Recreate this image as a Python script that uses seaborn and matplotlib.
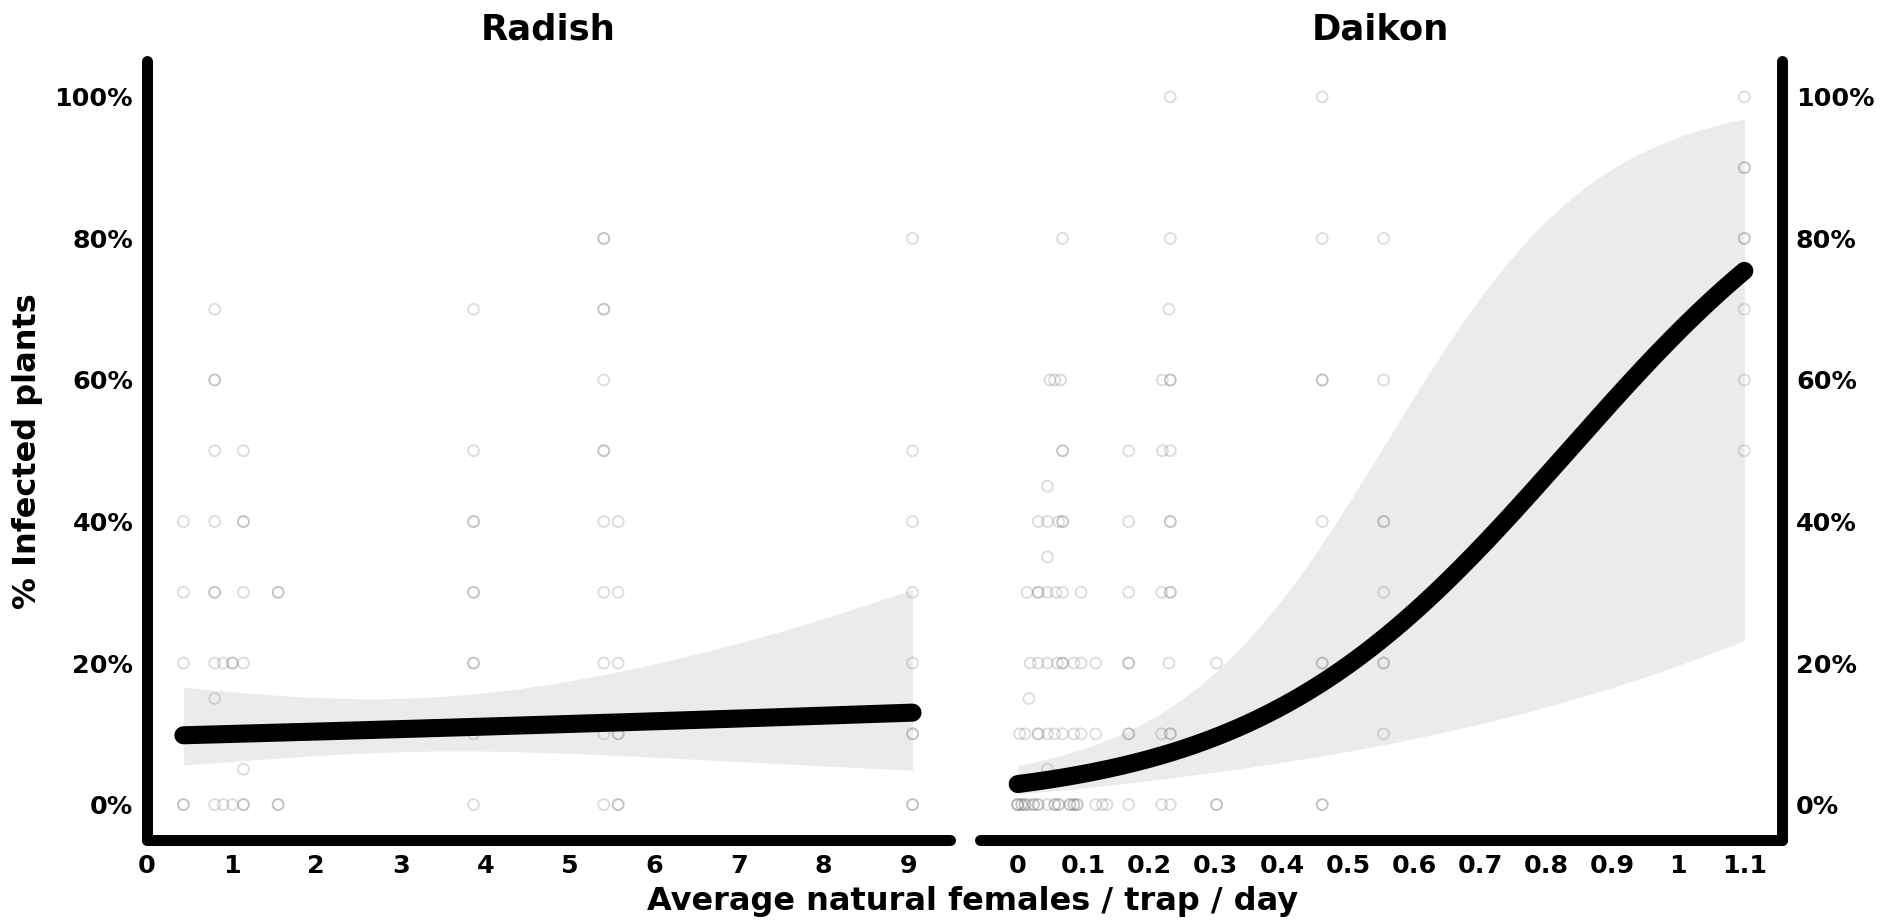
import numpy as np
import pandas as pd
import matplotlib
matplotlib.use("Agg")
import matplotlib.pyplot as plt
import seaborn as sns
from matplotlib.ticker import FuncFormatter, PercentFormatter

# ---- observations: trap catch rate vs share of infected plants ----
radish_x = [0.43, 0.43, 0.43, 0.43, 0.43,
            0.80, 0.80, 0.80, 0.80, 0.80, 0.80, 0.80, 0.80, 0.80, 0.80,
            0.90, 0.90,
            1.01, 1.01, 1.01,
            1.14, 1.14, 1.14, 1.14, 1.14, 1.14, 1.14, 1.14,
            1.55, 1.55, 1.55, 1.55,
            3.86, 3.86, 3.86, 3.86, 3.86, 3.86, 3.86, 3.86, 3.86, 3.86,
            5.40, 5.40, 5.40, 5.40, 5.40, 5.40, 5.40, 5.40, 5.40, 5.40, 5.40, 5.40,
            5.57, 5.57, 5.57, 5.57, 5.57, 5.57, 5.57,
            9.05, 9.05, 9.05, 9.05, 9.05, 9.05, 9.05, 9.05, 9.05]
radish_y = [0, 0, 20, 30, 40,
            0, 15, 20, 30, 30, 40, 50, 60, 60, 70,
            0, 20,
            0, 20, 20,
            0, 0, 5, 20, 30, 40, 40, 50,
            0, 0, 30, 30,
            0, 10, 20, 20, 30, 30, 40, 40, 50, 70,
            0, 10, 20, 30, 40, 50, 50, 60, 70, 70, 80, 80,
            0, 0, 10, 10, 20, 30, 40,
            0, 0, 10, 10, 20, 30, 40, 50, 80]

daikon_x = [
    # 0 %
    0.0, 0.0, 0.0, 0.006, 0.006, 0.011, 0.011, 0.017, 0.024, 0.024, 0.031, 0.031,
    0.045, 0.056, 0.056, 0.062, 0.062, 0.079, 0.079, 0.085, 0.085, 0.090, 0.090,
    0.118, 0.128, 0.135, 0.168, 0.218, 0.231, 0.301, 0.301, 0.461, 0.461,
    # 5 %
    0.045,
    # 10 %
    0.003, 0.011, 0.031, 0.031, 0.045, 0.056, 0.068, 0.085, 0.096, 0.118,
    0.168, 0.168, 0.218, 0.231, 0.231, 0.554,
    # 15 %
    0.017,
    # 20 %
    0.019, 0.031, 0.045, 0.060, 0.068, 0.068, 0.085, 0.096, 0.118, 0.168, 0.168,
    0.229, 0.301, 0.461, 0.461, 0.554, 0.554,
    # 30 %
    0.014, 0.031, 0.031, 0.045, 0.058, 0.068, 0.096, 0.168, 0.218, 0.231, 0.231, 0.554,
    # 35 %
    0.045,
    # 40 %
    0.031, 0.045, 0.062, 0.068, 0.068, 0.168, 0.231, 0.231, 0.461, 0.554, 0.554,
    # 45 %
    0.045,
    # 50 %
    0.068, 0.068, 0.168, 0.219, 0.231, 1.10,
    # 60 %
    0.049, 0.056, 0.065, 0.219, 0.231, 0.231, 0.461, 0.461, 0.554, 1.10,
    # 70 %
    0.229, 1.10,
    # 80 %
    0.068, 0.231, 0.461, 0.554, 1.10, 1.10,
    # 90 %
    1.10, 1.10,
    # 100 %
    0.231, 0.461, 1.10,
]
daikon_y = ([0] * 33 + [5] + [10] * 16 + [15] + [20] * 17 + [30] * 12 + [35]
            + [40] * 11 + [45] + [50] * 6 + [60] * 10 + [70] * 2 + [80] * 6
            + [90] * 2 + [100] * 3)

# ---- logistic fits (logit scale): intercept, slope, covariance terms ----
radish_coef = [-2.236, 0.037]
radish_vcov = [0.1152, -0.0238, 0.007515]   # var(b0), cov(b0,b1), var(b1)
daikon_coef = [-3.51, 4.21]
daikon_vcov = [0.116, -0.12, 1.28]

panel_titles = ["Radish", "Daikon"]
radish_ticks = list(range(0, 10))
daikon_ticks = [round(0.1 * i, 1) for i in range(12)]
y_ticks = [0, 0.2, 0.4, 0.6, 0.8, 1.0]

# ---- style ----
sns.set_theme(style="white")
plt.rcParams["font.family"] = ["DejaVu Sans"]
plt.rcParams["font.weight"] = "bold"
plt.rcParams["text.color"] = "black"
plt.rcParams["axes.titlecolor"] = "black"
plt.rcParams["axes.labelcolor"] = "black"

W, H = 1896, 921
fig = plt.figure(figsize=(W / 100, H / 100), dpi=100)
fig.patch.set_facecolor("white")

top_px, bot_px = 61.5, 840
ax_r = fig.add_axes([147 / W, 1 - bot_px / H, (949.5 - 147) / W, (bot_px - top_px) / H])
ax_d = fig.add_axes([979.5 / W, 1 - bot_px / H, (1782 - 979.5) / W, (bot_px - top_px) / H])

SPINE_W = 7.9
LINE_W = 13


def expit(z):
    return 1.0 / (1.0 + np.exp(-z))


def draw_panel(ax, xs, ys, coef, vcov, title):
    df = pd.DataFrame({"x": xs, "y": np.asarray(ys) / 100.0})
    grid = np.linspace(df["x"].min(), df["x"].max(), 300)
    eta = coef[0] + coef[1] * grid
    se = np.sqrt(vcov[0] + 2 * vcov[1] * grid + vcov[2] * grid ** 2)
    fit = pd.DataFrame({"x": grid, "p": expit(eta)})

    ax.fill_between(grid, expit(eta - 1.96 * se), expit(eta + 1.96 * se),
                    color="#ebebeb", linewidth=0, zorder=1)
    sns.scatterplot(data=df, x="x", y="y", ax=ax, marker="o", s=62,
                    facecolors="none", edgecolor="grey", linewidth=1.3,
                    alpha=0.28, legend=False, zorder=2)
    sns.lineplot(data=fit, x="x", y="p", ax=ax, color="black",
                 linewidth=LINE_W, solid_capstyle="round", zorder=3)

    ax.set_title(title, fontsize=25.5, fontweight="bold", pad=16, color="black")
    ax.set_xlabel("")
    ax.set_ylabel("")
    ax.set_ylim(-0.05, 1.05)
    ax.set_yticks(y_ticks)
    ax.yaxis.set_major_formatter(PercentFormatter(1.0, decimals=0))
    ax.tick_params(length=0, labelsize=18.3, pad=10, colors="black")
    ax.grid(False)
    for sp in ax.spines.values():
        sp.set_linewidth(SPINE_W)
        sp.set_color("black")
        sp.set_capstyle("round")
    ax.spines["top"].set_visible(False)


draw_panel(ax_r, radish_x, radish_y, radish_coef, radish_vcov, panel_titles[0])
ax_r.set_xlim(0, 9.487)
ax_r.set_xticks(radish_ticks)
ax_r.spines["right"].set_visible(False)

draw_panel(ax_d, daikon_x, daikon_y, daikon_coef, daikon_vcov, panel_titles[1])
ax_d.set_xlim(-0.0578, 1.157)
ax_d.set_xticks(daikon_ticks)
ax_d.xaxis.set_major_formatter(FuncFormatter(lambda v, _: f"{v:g}"))
ax_d.spines["left"].set_visible(False)
ax_d.yaxis.tick_right()

for ax in (ax_r, ax_d):
    for lab in ax.get_xticklabels() + ax.get_yticklabels():
        lab.set_fontweight("bold")

fig.text(973 / W, 1 - 901 / H, "Average natural females / trap / day",
         ha="center", va="center", fontsize=23, fontweight="bold", color="black")
fig.text(28 / W, 1 - 450.75 / H, "% Infected plants", rotation=90,
         ha="center", va="center", fontsize=23, fontweight="bold", color="black")

fig.savefig("out.png", dpi=100, facecolor="white")
